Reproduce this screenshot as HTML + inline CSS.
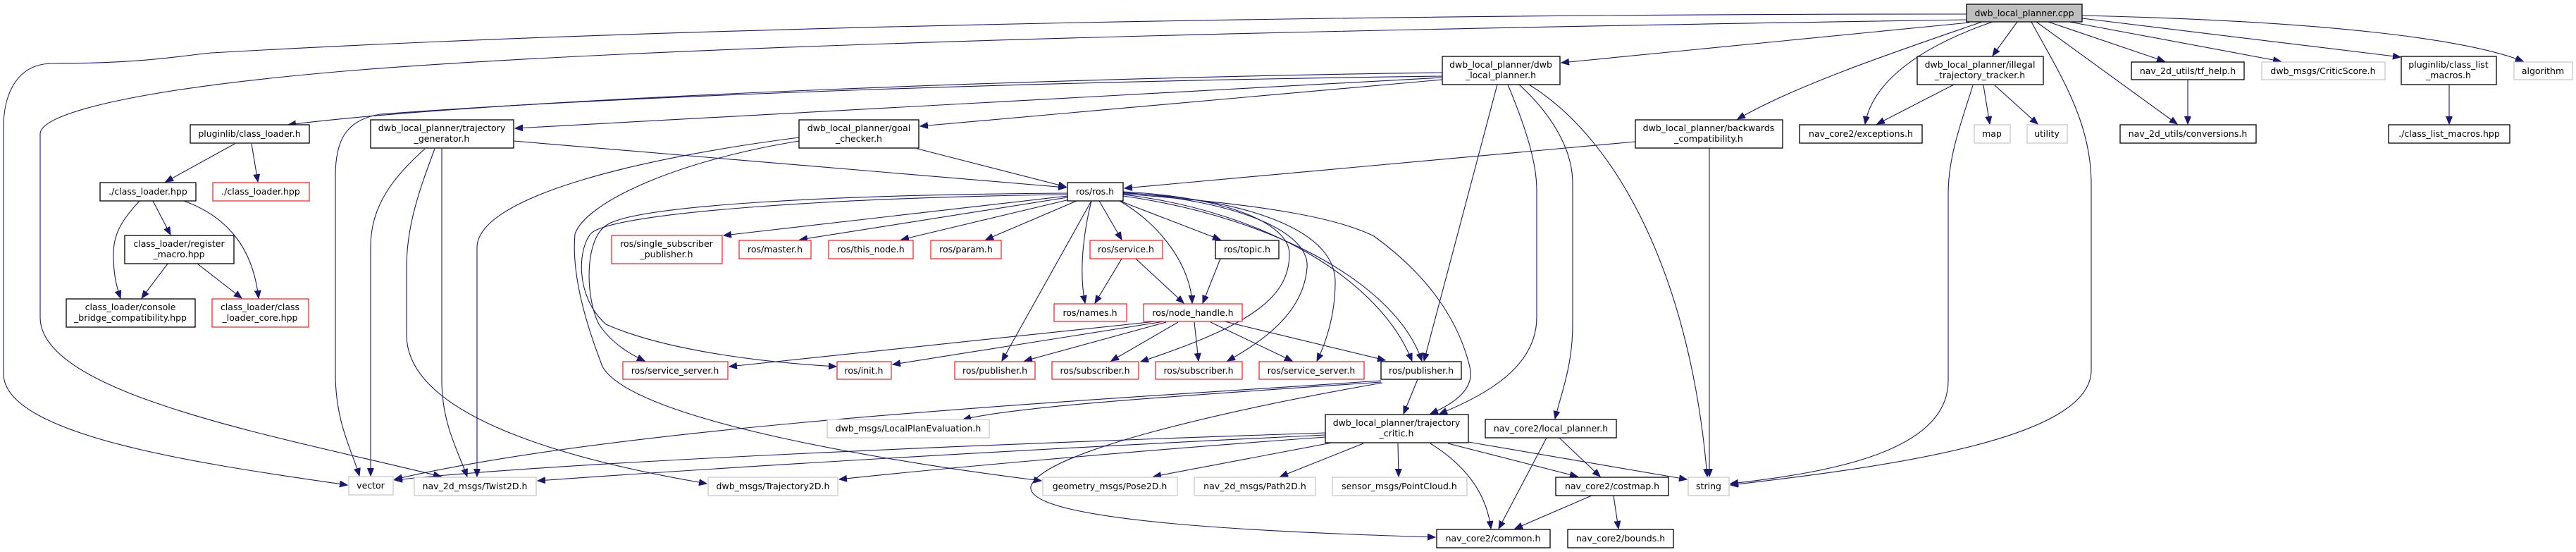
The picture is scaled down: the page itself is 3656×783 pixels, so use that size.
<!DOCTYPE html>
<html><head><meta charset="utf-8">
<style>
html,body{margin:0;padding:0;background:#fff;}
svg{display:block;}
text{font-family:"DejaVu Sans","Liberation Sans",sans-serif;font-size:12.5px;fill:#000;text-anchor:middle;}
.b{fill:#fff;stroke:#000;stroke-width:1.3;}
.r{fill:#fff;stroke:#ff0000;stroke-width:1.1;}
.g{fill:#fff;stroke:#bfbfbf;stroke-width:1.1;}
.root{fill:#bfbfbf;stroke:#000;stroke-width:1.3;}
path{fill:none;stroke:#191970;stroke-width:1.1;marker-end:url(#a);}
</style></head><body>
<svg width="3656" height="783" viewBox="0 0 3656 783" xmlns="http://www.w3.org/2000/svg">
<defs><marker id="a" markerUnits="userSpaceOnUse" markerWidth="12" markerHeight="10" refX="11" refY="4.5" orient="auto"><polygon points="0,0 11,4.5 0,9" fill="#191970" stroke="#191970"/></marker></defs>
<g>
<!-- root edges -->
<path d="M2791,20 C2000,20 1000,35 300,75 C250,80 200,90 75,90 C20,90 5,140 5,180 L5,530 C5,620 300,660 493,688"/>
<path d="M2791,28 C2000,40 1000,60 500,100 C200,125 57,160 57,190 L57,450 C57,560 400,620 626,676"/>
<path d="M2795,32 L2216,89"/>
<path d="M2813,31 C2700,70 2550,120 2466,169"/>
<path d="M2828,31 C2700,75 2655,130 2647,176"/>
<path d="M2773,120 L2664,176"/>
<path d="M2863,31 L2828,79"/>
<path d="M2883,31 C2920,100 2968,170 2968,260 L2968,525 C2968,620 2700,660 2456,688"/>
<path d="M2800,121 C2785,170 2765,220 2765,275 L2765,540 C2765,640 2600,670 2456,686"/>
<path d="M2907,31 L3072,87"/>
<path d="M2890,31 L3090,176"/>
<path d="M3105,113 L3105,176"/>
<path d="M2937,31 L3237,87"/>
<path d="M2955,26 L3407,81"/>
<path d="M2955,22 C3300,30 3500,55 3581,87"/>
<path d="M3476,120 L3476,176"/>
<path d="M2815,121 L2824,176"/>
<path d="M2831,121 L2892,176"/>
<!-- dwb_local_planner.h -->
<path d="M2047,103 C1500,110 700,140 409,177"/>
<path d="M2047,108 C1500,115 900,135 540,162 C490,170 476,200 476,250 L476,530 C476,600 500,640 510,675"/>
<path d="M2047,110 L731,182"/>
<path d="M2047,113 L1306,179"/>
<path d="M2125,120 L2021,512"/>
<path d="M2140,120 C2165,180 2181,230 2181,270 L2181,450 C2181,520 2110,560 2043,587"/>
<path d="M2156,120 C2200,160 2232,210 2232,260 L2232,460 C2232,520 2215,560 2207,594"/>
<path d="M2170,120 C2300,200 2400,400 2423,676"/>
<!-- backwards -->
<path d="M2321,201 L1596,267"/>
<path d="M2426,210 L2426,676"/>
<!-- generator -->
<path d="M729,200 L1513,266"/>
<path d="M603,211 C560,250 526,290 526,350 L526,675"/>
<path d="M617,211 C595,270 577,320 577,380 L577,475 C577,600 850,660 1003,686"/>
<path d="M627,211 L627,540 C627,600 650,640 663,676"/>
<!-- goal checker -->
<path d="M1302,211 L1513,265"/>
<path d="M1134,195 C900,225 680,280 677,350 L677,676"/>
<path d="M1134,200 C950,230 830,290 816,332 C810,400 840,480 855,520 C900,600 1300,660 1478,682"/>
<!-- ros.h -->
<path d="M1515,278 L1027,334"/>
<path d="M1515,280 L1135,340"/>
<path d="M1518,283 L1279,340"/>
<path d="M1528,285 L1399,340"/>
<path d="M1560,285 L1592,340"/>
<path d="M1549,285 C1540,320 1530,380 1540,430"/>
<path d="M1589,285 C1650,320 1690,380 1692,430"/>
<path d="M1589,285 L1732,340"/>
<path d="M1549,285 L1422,512"/>
<path d="M1515,274 C1200,276 900,290 860,320 C830,340 830,420 850,460 C870,490 900,505 915,512"/>
<path d="M1515,276 C1200,280 880,300 840,330 C820,350 815,420 860,460 C950,500 1100,515 1187,520"/>
<path d="M1594,274 C1750,280 1895,320 1895,400 C1895,450 1880,490 1869,512"/>
<path d="M1594,272 C1750,280 1830,320 1830,360 C1830,420 1780,460 1619,513"/>
<path d="M1594,273 C1760,285 1860,330 1855,380 C1850,440 1800,480 1742,512"/>
<path d="M1594,276 C1800,300 1960,400 2004,512"/>
<path d="M1594,278 C1820,310 1985,410 2018,512"/>
<path d="M1594,275 C1800,290 1900,310 1950,335 C2040,400 2075,470 2087,525 C2090,550 2070,570 2030,587"/>
<path d="M1732,367 L1707,430"/>
<path d="M1592,367 L1554,430"/>
<path d="M1612,367 L1680,430"/>
<!-- node_handle -->
<path d="M1640,456 L1035,520"/>
<path d="M1652,456 L1267,517"/>
<path d="M1655,457 L1454,512"/>
<path d="M1672,457 L1577,512"/>
<path d="M1695,457 L1701,512"/>
<path d="M1718,457 L1834,512"/>
<path d="M1738,456 L1966,511"/>
<!-- publisher black -->
<path d="M2012,538 L1992,587"/>
<path d="M1960,540 C1600,565 900,600 560,680"/>
<path d="M1960,542 C1700,560 1450,575 1367,595"/>
<path d="M1962,543 C1750,580 1480,640 1463,690 C1455,740 1800,755 2037,762"/>
<!-- critic -->
<path d="M1881,614 C1400,630 800,655 560,681"/>
<path d="M1881,617 C1400,640 1000,665 763,682"/>
<path d="M1881,620 C1600,640 1300,668 1191,680"/>
<path d="M1890,628 L1637,676"/>
<path d="M1935,629 L1817,676"/>
<path d="M1984,629 L1985,676"/>
<path d="M2030,629 C2080,660 2110,700 2116,750"/>
<path d="M2055,629 L2239,676"/>
<path d="M2084,627 L2394,680"/>
<!-- local planner, costmap -->
<path d="M2213,621 L2271,676"/>
<path d="M2195,621 L2127,750"/>
<path d="M2259,703 L2150,750"/>
<path d="M2290,703 L2297,750"/>
<!-- class loader -->
<path d="M333,204 L235,258"/>
<path d="M357,204 L366,258"/>
<path d="M217,285 L242,333"/>
<path d="M198,285 C175,310 161,330 161,360 C161,390 165,405 171,423"/>
<path d="M261,285 C330,310 360,360 367,423"/>
<path d="M238,374 L201,423"/>
<path d="M280,374 L343,423"/>
</g>
<g>
<rect class="root" x="2791" y="6" width="164" height="25"/><text x="2873" y="23">dwb_local_planner.cpp</text>
<rect class="b" x="2721" y="80" width="179" height="40"/><text x="2810" y="96">dwb_local_planner/illegal</text><text x="2810" y="111">_trajectory_tracker.h</text>
<rect class="b" x="3025" y="88" width="160" height="25"/><text x="3105" y="105">nav_2d_utils/tf_help.h</text>
<rect class="g" x="3210" y="88" width="175" height="25"/><text x="3297" y="105">dwb_msgs/CriticScore.h</text>
<rect class="b" x="3408" y="80" width="135" height="40"/><text x="3475" y="96">pluginlib/class_list</text><text x="3475" y="111">_macros.h</text>
<rect class="g" x="3568" y="88" width="83" height="25"/><text x="3609" y="105">algorithm</text>
<rect class="g" x="2802" y="177" width="51" height="26"/><text x="2827" y="194">map</text>
<rect class="g" x="2877" y="177" width="57" height="26"/><text x="2905" y="194">utility</text>
<rect class="b" x="3009" y="177" width="193" height="26"/><text x="3105" y="194">nav_2d_utils/conversions.h</text>
<rect class="b" x="3390" y="177" width="172" height="26"/><text x="3476" y="194">./class_list_macros.hpp</text>
<rect class="b" x="2554" y="177" width="174" height="26"/><text x="2641" y="194">nav_core2/exceptions.h</text>
<rect class="b" x="2047" y="80" width="167" height="40"/><text x="2130" y="96">dwb_local_planner/dwb</text><text x="2130" y="111">_local_planner.h</text>
<rect class="b" x="2321" y="170" width="209" height="40"/><text x="2425" y="186">dwb_local_planner/backwards</text><text x="2425" y="201">_compatibility.h</text>
<rect class="b" x="1960" y="513" width="114" height="25"/><text x="2017" y="530">ros/publisher.h</text>
<rect class="r" x="1787" y="513" width="149" height="25"/><text x="1861" y="530">ros/service_server.h</text>
<rect class="b" x="1881" y="588" width="203" height="40"/><text x="1982" y="604">dwb_local_planner/trajectory</text><text x="1982" y="619">_critic.h</text>
<rect class="b" x="2108" y="595" width="186" height="26"/><text x="2201" y="612">nav_core2/local_planner.h</text>
<rect class="g" x="1695" y="677" width="172" height="26"/><text x="1781" y="694">nav_2d_msgs/Path2D.h</text>
<rect class="g" x="1891" y="677" width="191" height="26"/><text x="1986" y="694">sensor_msgs/PointCloud.h</text>
<rect class="b" x="2208" y="677" width="160" height="26"/><text x="2288" y="694">nav_core2/costmap.h</text>
<rect class="g" x="2396" y="677" width="58" height="26"/><text x="2425" y="694">string</text>
<rect class="b" x="2039" y="751" width="161" height="26"/><text x="2119" y="768">nav_core2/common.h</text>
<rect class="b" x="2225" y="751" width="150" height="26"/><text x="2300" y="768">nav_core2/bounds.h</text>
<rect class="b" x="1134" y="170" width="170" height="40"/><text x="1219" y="186">dwb_local_planner/goal</text><text x="1219" y="201">_checker.h</text>
<rect class="b" x="1515" y="259" width="79" height="26"/><text x="1554" y="276">ros/ros.h</text>
<rect class="r" x="868" y="334" width="157" height="40"/><text x="946" y="350">ros/single_subscriber</text><text x="946" y="365">_publisher.h</text>
<rect class="r" x="1049" y="341" width="102" height="26"/><text x="1100" y="358">ros/master.h</text>
<rect class="r" x="1176" y="341" width="120" height="26"/><text x="1236" y="358">ros/this_node.h</text>
<rect class="r" x="1321" y="341" width="100" height="26"/><text x="1371" y="358">ros/param.h</text>
<rect class="r" x="1547" y="341" width="103" height="26"/><text x="1598" y="358">ros/service.h</text>
<rect class="b" x="1725" y="341" width="90" height="26"/><text x="1770" y="358">ros/topic.h</text>
<rect class="r" x="1496" y="431" width="103" height="25"/><text x="1547" y="448">ros/names.h</text>
<rect class="r" x="1623" y="431" width="140" height="25"/><text x="1693" y="448">ros/node_handle.h</text>
<rect class="r" x="884" y="513" width="149" height="25"/><text x="958" y="530">ros/service_server.h</text>
<rect class="r" x="1188" y="513" width="77" height="25"/><text x="1226" y="530">ros/init.h</text>
<rect class="r" x="1355" y="513" width="114" height="25"/><text x="1412" y="530">ros/publisher.h</text>
<rect class="r" x="1493" y="513" width="123" height="25"/><text x="1554" y="530">ros/subscriber.h</text>
<rect class="r" x="1640" y="513" width="123" height="25"/><text x="1701" y="530">ros/subscriber.h</text>
<rect class="g" x="1174" y="595" width="230" height="26"/><text x="1289" y="612">dwb_msgs/LocalPlanEvaluation.h</text>
<rect class="g" x="1005" y="677" width="184" height="26"/><text x="1097" y="694">dwb_msgs/Trajectory2D.h</text>
<rect class="g" x="1480" y="677" width="191" height="26"/><text x="1575" y="694">geometry_msgs/Pose2D.h</text>
<rect class="b" x="270" y="177" width="169" height="26"/><text x="354" y="194">pluginlib/class_loader.h</text>
<rect class="b" x="142" y="259" width="136" height="26"/><text x="210" y="276">./class_loader.hpp</text>
<rect class="r" x="302" y="259" width="137" height="26"/><text x="370" y="276">./class_loader.hpp</text>
<rect class="b" x="177" y="334" width="155" height="40"/><text x="254" y="350">class_loader/register</text><text x="254" y="365">_macro.hpp</text>
<rect class="b" x="94" y="424" width="183" height="40"/><text x="185" y="440">class_loader/console</text><text x="185" y="455">_bridge_compatibility.hpp</text>
<rect class="r" x="301" y="424" width="137" height="40"/><text x="369" y="440">class_loader/class</text><text x="369" y="455">_loader_core.hpp</text>
<rect class="b" x="526" y="170" width="203" height="40"/><text x="627" y="186">dwb_local_planner/trajectory</text><text x="627" y="201">_generator.h</text>
<rect class="g" x="495" y="676" width="63" height="26"/><text x="526" y="693">vector</text>
<rect class="g" x="588" y="677" width="173" height="26"/><text x="674" y="694">nav_2d_msgs/Twist2D.h</text>
</g>
</svg>
</body></html>
